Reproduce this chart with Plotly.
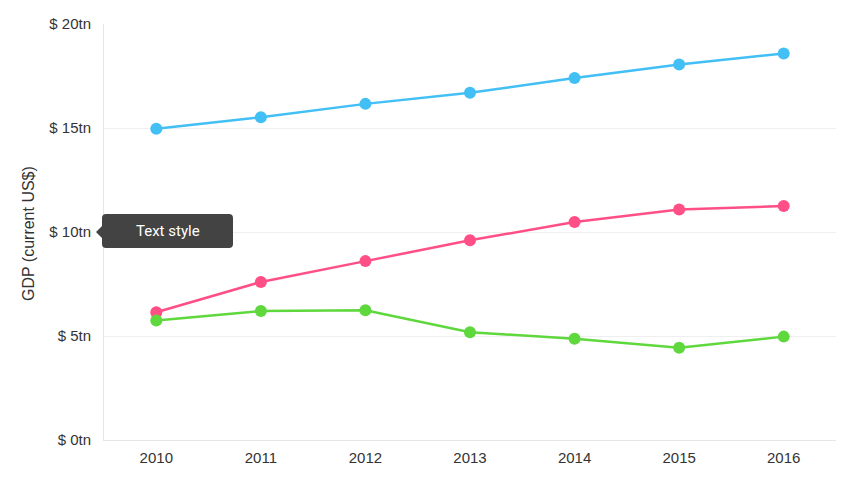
import plotly.graph_objects as go

years = ["2010", "2011", "2012", "2013", "2014", "2015", "2016"]
usa = [14.96, 15.52, 16.16, 16.69, 17.40, 18.05, 18.58]
china = [6.14, 7.60, 8.60, 9.60, 10.48, 11.08, 11.25]
japan = [5.74, 6.20, 6.24, 5.18, 4.87, 4.43, 4.97]
y_ticks = [0, 5, 10, 15, 20]
y_tick_labels = ["$ 0tn", "$ 5tn", "$ 10tn", "$ 15tn", "$ 20tn"]
y_title = "GDP (current US$)"
tooltip_text = "Text style"

# page is offset by the 8px body margin
OFF = 8
W, H = 852, 480
PL, PR, PT, PB = 104, 836, 24, 440  # plot area in page pixels
ML, MT = PL - OFF, PT - OFF
MR, MB = W - (PR - OFF), H - (PB - OFF)

FONT = "Liberation Sans, Arial, sans-serif"

fig = go.Figure()
for name, vals, col in [("USA", usa, "#42BFF5"), ("China", china, "#FF4F86"), ("Japan", japan, "#5ED83C")]:
    fig.add_trace(go.Scatter(
        x=years, y=vals, name=name, mode="lines+markers",
        line=dict(color=col, width=2.5),
        marker=dict(color=col, size=12),
        hoverinfo="skip",
    ))

def px(x):
    return (x - PL) / (PR - PL)

def py(y):
    return 1 - (y - PT) / (PB - PT)

x0, x1, y0, y1, r = 102, 233, 214, 248, 4
ax, ay = 96, 232
pts = [
    (x0 + r, y0), (x1 - r, y0), ("Q", x1, y0, x1, y0 + r), (x1, y1 - r),
    ("Q", x1, y1, x1 - r, y1), (x0 + r, y1), ("Q", x0, y1, x0, y1 - r),
    (x0, ay + 6), (ax, ay), (x0, ay - 6), (x0, y0 + r), ("Q", x0, y0, x0 + r, y0),
]
path = ""
for i, p in enumerate(pts):
    if p[0] == "Q":
        path += f" Q {px(p[1])},{py(p[2])} {px(p[3])},{py(p[4])}"
    else:
        path += (" M " if i == 0 else " L ") + f"{px(p[0])},{py(p[1])}"
path += " Z"

fig.add_shape(type="path", path=path, xref="paper", yref="paper",
              fillcolor="#434343", line=dict(width=0), layer="above")
fig.add_annotation(text=tooltip_text, x=px((x0 + x1) / 2), y=py((y0 + y1) / 2),
                   xref="paper", yref="paper", showarrow=False,
                   xanchor="center", yanchor="middle",
                   font=dict(family="Roboto", size=15, color="#ffffff"))
fig.add_annotation(text=y_title, x=px(28), y=py(234), xref="paper", yref="paper",
                   showarrow=False, textangle=-90, xanchor="center", yanchor="middle",
                   font=dict(family=FONT, size=16, color="#333333"))

fig.update_layout(
    width=W, height=H,
    margin=dict(l=ML, r=MR, t=MT, b=MB, autoexpand=False),
    paper_bgcolor="white", plot_bgcolor="white",
    showlegend=False,
    font=dict(family=FONT, size=15, color="#333333"),
    xaxis=dict(type="category", range=[-0.5, 6.5], showgrid=False,
               showline=True, linecolor="#e6e6e6", linewidth=1,
               ticks="", tickfont=dict(size=15, color="#333333"), ticklabelstandoff=4),
    yaxis=dict(range=[0, 20], tickvals=y_ticks, ticktext=y_tick_labels,
               showgrid=True, gridcolor="#efefef", gridwidth=1,
               showline=True, linecolor="#e6e6e6", zeroline=False,
               ticks="", tickfont=dict(size=15, color="#333333"), ticklabelstandoff=9),
)

fig.write_html("out.html")
